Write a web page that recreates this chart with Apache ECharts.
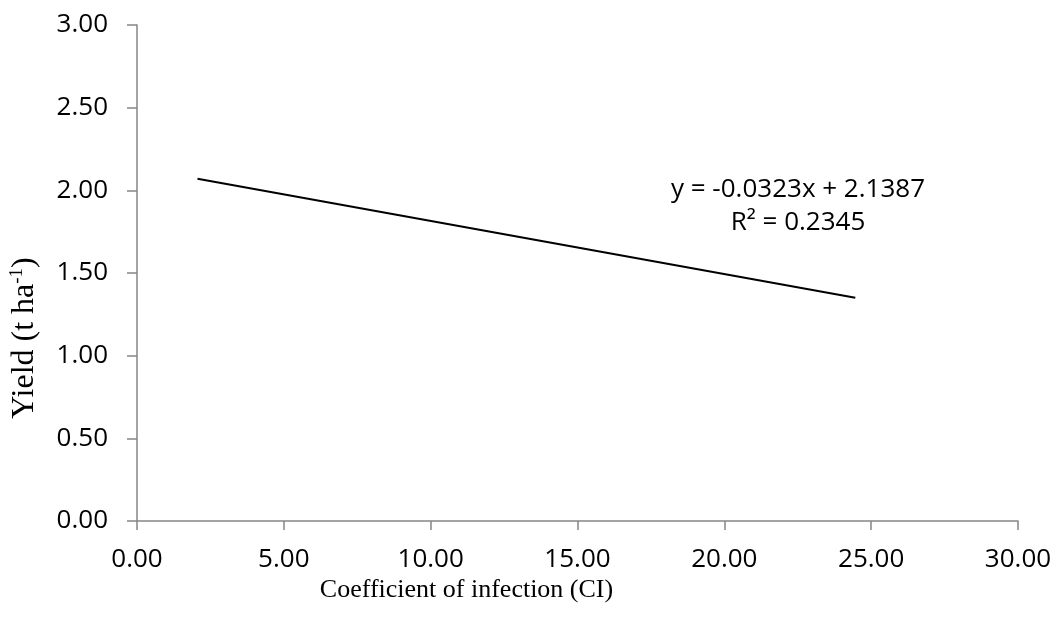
<!DOCTYPE html>
<html>
<head>
<meta charset="utf-8">
<script src="https://cdn.jsdelivr.net/npm/echarts@6/dist/echarts.min.js"></script>
<style>
  html, body { margin: 0; padding: 0; background: #fff; }
  #chart { width: 1057px; height: 618px; }
</style>
</head>
<body>
<div id="chart"></div>
<script>
// trend line end points (x = CI, y = yield)
const lineX = [2.06, 24.46];
const lineY = [2.07, 1.35];
const xTicks = [0, 5, 10, 15, 20, 25, 30];
const yTicks = [0, 0.5, 1, 1.5, 2, 2.5, 3];
const equation = 'y = -0.0323x + 2.1387';
const rSquared = 'R² = 0.2345';

const axisColor = '#868686';
const labelFont = 'Open Sans';

let chart = echarts.init(document.getElementById('chart'));
chart.setOption({
  animation: false,
  grid: {
    left: 135,
    right: 39,
    top: 25,
    bottom: 97
  },
  xAxis: {
    type: 'value',
    min: xTicks[0],
    max: xTicks[xTicks.length - 1],
    interval: 5,
    name: 'Coefficient of infection (CI)',
    nameLocation: 'middle',
    nameGap: 56,
    nameMoveOverlap: false,
    nameTextStyle: {
      fontFamily: 'Liberation Serif',
      fontSize: 26,
      color: '#000',
      // title sits left of the axis centre in the original
      padding: [0, 222, 0, 0]
    },
    axisLine: { lineStyle: { color: axisColor, width: 1.5 } },
    axisTick: { show: true, length: 9, lineStyle: { color: axisColor, width: 1.5 } },
    axisLabel: {
      margin: 26,
      fontFamily: labelFont,
      fontSize: 26,
      color: '#000',
      formatter: (v) => v.toFixed(2)
    },
    splitLine: { show: false }
  },
  yAxis: {
    type: 'value',
    min: yTicks[0],
    max: yTicks[yTicks.length - 1],
    interval: 0.5,
    name: '{n|Yield (t ha}{s|-1}{n|)}',
    nameLocation: 'middle',
    nameGap: 95,
    nameRotate: 90,
    nameMoveOverlap: false,
    nameTextStyle: {
      padding: [0, 130, 0, 0],
      rich: {
        n: { fontFamily: 'Liberation Serif', fontSize: 32, color: '#000' },
        s: { fontFamily: 'Liberation Serif', fontSize: 19, color: '#000', padding: [0, 0, 15, 0] }
      }
    },
    axisLine: { show: true, lineStyle: { color: axisColor, width: 1.5 } },
    axisTick: { show: true, length: 10, lineStyle: { color: axisColor, width: 1.5 } },
    axisLabel: {
      margin: 29,
      fontFamily: labelFont,
      fontSize: 26,
      color: '#000',
      formatter: (v) => v.toFixed(2)
    },
    splitLine: { show: false }
  },
  graphic: [
    {
      type: 'text',
      x: 798,
      y: 173,
      style: {
        text: equation + '\n' + rSquared,
        fontFamily: labelFont,
        fontSize: 26,
        lineHeight: 33,
        fill: '#000',
        align: 'center',
        verticalAlign: 'top'
      }
    }
  ],
  series: [
    {
      type: 'line',
      data: lineX.map((x, i) => [x, lineY[i]]),
      symbol: 'none',
      lineStyle: { color: '#000', width: 2 }
    }
  ]
});
window.addEventListener('resize', function() {
  chart.resize();
});
</script>
</body>
</html>
